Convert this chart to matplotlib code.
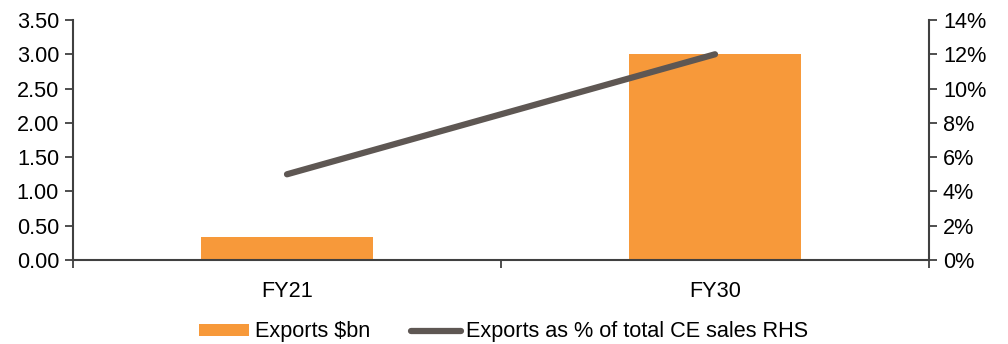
import matplotlib
matplotlib.use("Agg")
import matplotlib.pyplot as plt
from matplotlib.ticker import FixedLocator, FuncFormatter
import numpy as np

plt.rcParams['font.family'] = ['Liberation Sans', 'DejaVu Sans']

categories = ['FY21', 'FY30']
exports_bn = [0.33, 3.00]
exports_pct = [5.0, 12.0]

orange = '#F7993A'
grey = '#5E5753'
axis_col = '#404040'
fs = 15.6

fig = plt.figure(figsize=(10.08, 3.44), dpi=100)
ax = fig.add_axes([73/1008, 1 - 260/344, 856/1008, 240/344])
ax2 = ax.twinx()

x = np.arange(len(categories))
bars = ax.bar(x, exports_bn, width=0.4, color=orange, label='Exports $bn', zorder=2)
line, = ax2.plot(x, exports_pct, color=grey, lw=4.5, solid_capstyle='round',
                 label='Exports as % of total CE sales RHS', zorder=3)

ax.set_xlim(-0.5, 1.5)
ax.set_ylim(0, 3.5)
ax2.set_ylim(0, 14)
ax.set_yticks(np.arange(0, 3.51, 0.5))
ax.yaxis.set_major_formatter(FuncFormatter(lambda v, p: f'{v:.2f}'))
ax2.set_yticks(np.arange(0, 14.1, 2))
ax2.yaxis.set_major_formatter(FuncFormatter(lambda v, p: f'{v:.0f}%'))

ax.set_xticks(x)
ax.set_xticklabels(categories)
ax.xaxis.set_minor_locator(FixedLocator([-0.5, 0.5, 1.5]))
ax.tick_params(axis='x', which='major', length=0, pad=15)
ax.tick_params(axis='x', which='minor', length=6, width=1.3, color=axis_col)

for a in (ax, ax2):
    for s in a.spines.values():
        s.set_visible(False)
    a.tick_params(axis='y', length=6, width=1.3, color=axis_col, labelsize=fs, pad=4)
ax.tick_params(axis='x', labelsize=fs)
ax.spines['left'].set_visible(True)
ax.spines['bottom'].set_visible(True)
ax2.spines['right'].set_visible(True)
for s in (ax.spines['left'], ax.spines['bottom'], ax2.spines['right']):
    s.set_color(axis_col)
    s.set_linewidth(1.5)

fig.legend(handles=[bars, line], loc='center', bbox_to_anchor=(0.5, 1 - 332/344),
           ncol=2, frameon=False, fontsize=fs, handlelength=2.3, handleheight=0.5,
           handletextpad=0.25, columnspacing=1.9)

fig.savefig('out.png', dpi=100)
